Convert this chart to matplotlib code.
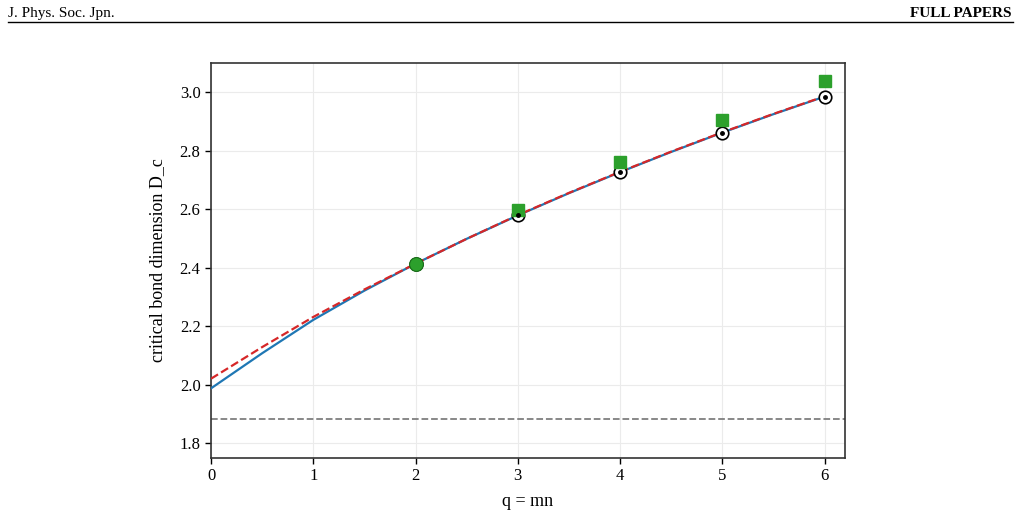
import numpy as np
import matplotlib.pyplot as plt

plt.rcParams['font.family'] = ['Liberation Serif', 'DejaVu Serif']

# fitted curves
q_curve = [0, 0.5, 1, 1.5, 2, 2.5, 3, 3.5, 4, 4.5, 5, 5.5, 6]
fit_blue = [1.988, 2.108, 2.222, 2.322, 2.414, 2.499, 2.579, 2.655, 2.727, 2.796, 2.862, 2.925, 2.985]
fit_red = [2.021, 2.129, 2.232, 2.326, 2.414, 2.499, 2.580, 2.656, 2.728, 2.797, 2.863, 2.926, 2.986]

# data points
q_pts = [2, 3, 4, 5, 6]
dc_open = [2.414, 2.579, 2.727, 2.862, 2.985]
q_sq = [3, 4, 5, 6]
dc_sq = [2.598, 2.761, 2.905, 3.037]
q_green = [2]
dc_green = [2.414]
d_ref = 1.882

fig = plt.figure(figsize=(10.21, 5.15), dpi=100)
ax = fig.add_axes([0.2067, 0.1107, 0.6209, 0.767])

ax.plot(q_curve, fit_blue, '-', color='#1f77b4', lw=1.6, zorder=3)
ax.plot(q_curve, fit_red, '--', color='#d62728', lw=1.6, zorder=4)
ax.axhline(d_ref, color='#7f7f7f', ls='--', lw=1.3, zorder=2)

ax.plot(q_pts, dc_open, 'o', ms=9, mfc='white', mec='black', mew=1.2, zorder=5)
ax.plot(q_pts, dc_open, 'o', ms=2.5, color='black', zorder=6)
ax.plot(q_sq, dc_sq, 's', ms=8, color='#2ca02c', zorder=5)
ax.plot(q_green, dc_green, 'o', ms=10, mfc='#2ca02c', mec='#1a6e1a', mew=0.8, zorder=7)

ax.set_xlim(0, 6.2)
ax.set_ylim(1.75, 3.1)
ax.set_xticks([0, 1, 2, 3, 4, 5, 6])
ax.set_yticks([1.8, 2.0, 2.2, 2.4, 2.6, 2.8, 3.0])
ax.yaxis.set_major_formatter(plt.FormatStrFormatter('%.1f'))
ax.grid(True, color='#ebebeb', lw=0.8)
ax.set_axisbelow(True)
ax.tick_params(labelsize=12, direction='out', length=4, width=1)
for s in ax.spines.values():
    s.set_color('#333333')
    s.set_linewidth(1.2)

ax.set_xlabel('q = mn', fontsize=13, labelpad=6)
ax.set_ylabel('critical bond dimension D_c', fontsize=13, labelpad=10)

# page header
fig.text(0.008, 0.974, 'J. Phys. Soc. Jpn.', fontsize=11, va='center', ha='left')
fig.text(0.991, 0.974, 'FULL PAPERS', fontsize=11, weight='bold', va='center', ha='right')
fig.add_artist(plt.Line2D([0.008, 0.992], [0.957, 0.957], color='black', lw=1.0))

fig.savefig('out.png', dpi=100)
